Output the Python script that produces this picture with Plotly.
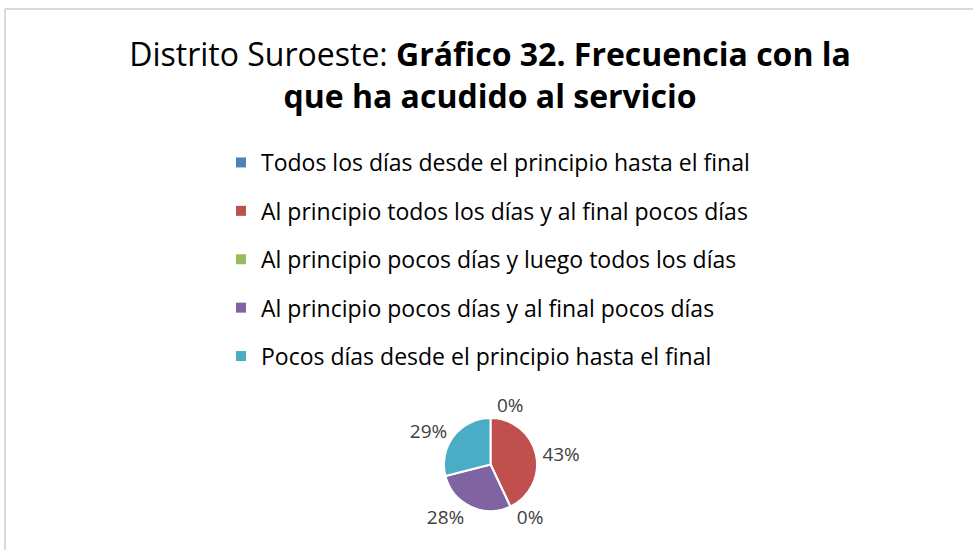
import plotly.graph_objects as go

categories = [
    "Todos los días desde el principio hasta el final",
    "Al principio todos los días y al final pocos días",
    "Al principio pocos días y luego todos los días",
    "Al principio pocos días y al final pocos días",
    "Pocos días desde el principio hasta el final",
]
values = [0, 43, 0, 28, 29]
colors = ["#4F81BD", "#C0504D", "#9BBB59", "#8064A2", "#4BACC6"]

W, H = 973, 550
FONT = "Open Sans"

fig = go.Figure()

fig.add_trace(go.Pie(
    labels=categories,
    values=values,
    sort=False,
    direction="clockwise",
    rotation=0,
    marker=dict(colors=colors, line=dict(color="white", width=2)),
    textinfo="percent",
    texttemplate="%{percent:.0%}",
    textposition="outside",
    outsidetextfont=dict(family=FONT, size=19, color="#404040"),
    showlegend=False,
    domain=dict(x=[444 / W, 537 / W], y=[1 - 511 / H, 1 - 418 / H]),
    hoverinfo="label+percent",
))

# legend entries (one per category)
for cat, col in zip(categories, colors):
    fig.add_trace(go.Scatter(
        x=[None], y=[None], mode="markers", name=cat,
        marker=dict(symbol="square", size=10, color=col),
        legendgroup=cat, showlegend=True,
    ))

fig.update_layout(
    width=W, height=H,
    margin=dict(l=0, r=0, t=0, b=0),
    paper_bgcolor="white", plot_bgcolor="white",
    xaxis=dict(visible=False), yaxis=dict(visible=False),
    title=dict(
        text="Distrito Suroeste: <b>Gráfico 32. Frecuencia con la</b><br><b>que ha acudido al servicio</b>",
        x=490 / W, xanchor="center", y=1 - 66 / H, yanchor="top",
        font=dict(family=FONT, size=32, color="black"),
    ),
    legend=dict(
        x=221 / W, xanchor="left", y=1 - 141 / H, yanchor="top",
        font=dict(family=FONT, size=23, color="black"),
        traceorder="grouped", tracegroupgap=15.5,
        bgcolor="rgba(0,0,0,0)",
    ),
    shapes=[
        dict(type="line", xref="paper", yref="paper", x0=5 / W, x1=5 / W, y0=-0.1, y1=1 - 9 / H,
             line=dict(color="#d9d9d9", width=2)),
        dict(type="line", xref="paper", yref="paper", x0=5 / W, x1=1.1, y0=1 - 9 / H, y1=1 - 9 / H,
             line=dict(color="#d9d9d9", width=2)),
    ],
)

fig.write_html("out.html", config={"displayModeBar": False},
               post_script="document.body.style.margin='0';")
